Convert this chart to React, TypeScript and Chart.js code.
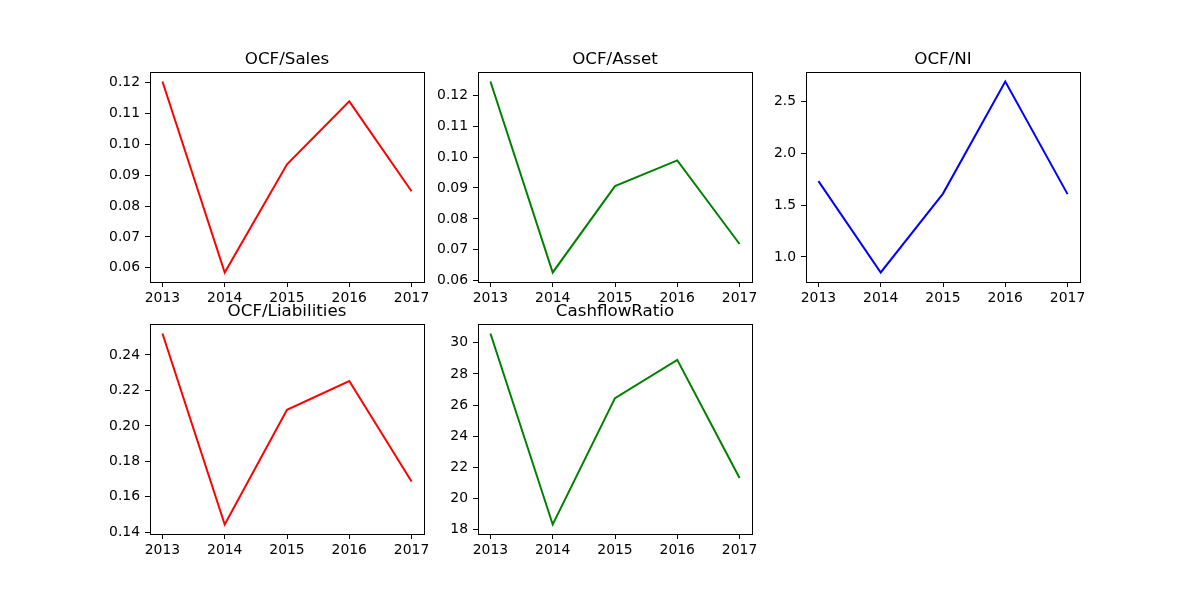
import React, { useEffect, useRef } from "react";
import { Chart, registerables } from "chart.js";

Chart.register(...registerables);

const years = [2013, 2014, 2015, 2016, 2017];
const ocfSales = [0.1203, 0.0585, 0.0935, 0.1139, 0.0848];
const ocfAsset = [0.1244, 0.0627, 0.0906, 0.0989, 0.0719];
const ocfNi = [1.73, 0.85, 1.61, 2.69, 1.605];
const ocfLiabilities = [0.2521, 0.1444, 0.2091, 0.2253, 0.1686];
const cashflowRatio = [30.6, 18.33, 26.45, 28.91, 21.32];

const titles = ["OCF/Sales", "OCF/Asset", "OCF/NI", "OCF/Liabilities", "CashflowRatio"];
const seriesList = [ocfSales, ocfAsset, ocfNi, ocfLiabilities, cashflowRatio];
const colors = ["#ff0000", "#008000", "#0000ff", "#ff0000", "#008000"];
const tickSteps = [0.01, 0.01, 0.5, 0.02, 2];
const tickDecimals = [2, 2, 1, 2, 0];

const AX_W = 274;
const AX_H = 210;
const colLefts = [150, 478, 806];
const rowTops = [72, 324];
const PAD_L = 70;
const PAD_T = 40;
const PAD_R = 20;
const PAD_B = 30;
const FONT = '"DejaVu Sans", sans-serif';

const framePlugin = {
  id: "frameAndTitle",
  afterDraw(chart: any) {
    const { ctx, chartArea } = chart;
    ctx.save();
    ctx.strokeStyle = "#000";
    ctx.lineWidth = 1;
    ctx.strokeRect(
      Math.round(chartArea.left) + 0.5,
      Math.round(chartArea.top) + 0.5,
      Math.round(chartArea.right - chartArea.left),
      Math.round(chartArea.bottom - chartArea.top)
    );
    const t = chart.options.plugins.subTitleText;
    ctx.fillStyle = "#000";
    ctx.font = `16.7px ${FONT}`;
    ctx.textAlign = "center";
    ctx.textBaseline = "alphabetic";
    ctx.fillText(t, (chartArea.left + chartArea.right) / 2, chartArea.top - 8);
    ctx.restore();
  },
};

function SubPlot({ idx }: { idx: number }) {
  const ref = useRef<HTMLCanvasElement>(null);
  const col = idx % 3;
  const row = Math.floor(idx / 3);
  const left = colLefts[col] - PAD_L;
  const top = rowTops[row] - PAD_T;
  const w = AX_W + PAD_L + PAD_R;
  const h = AX_H + PAD_T + PAD_B;

  useEffect(() => {
    const values = seriesList[idx];
    const lo = Math.min(...values);
    const hi = Math.max(...values);
    const r = hi - lo;
    const yMin = lo - 0.05 * r;
    const yMax = hi + 0.05 * r;
    const step = tickSteps[idx];
    const yTicks: number[] = [];
    for (let v = Math.ceil(yMin / step - 1e-9) * step; v <= yMax + 1e-9; v += step) {
      yTicks.push(Math.round(v / step) * step);
    }
    const xr = years[years.length - 1] - years[0];
    const xMin = years[0] - 0.05 * xr;
    const xMax = years[years.length - 1] + 0.05 * xr;

    const chart = new Chart(ref.current as HTMLCanvasElement, {
      type: "line",
      data: {
        datasets: [
          {
            data: years.map((y, i) => ({ x: y, y: values[i] })),
            borderColor: colors[idx],
            borderWidth: 2,
            pointRadius: 0,
            fill: false,
            tension: 0,
          },
        ],
      },
      options: {
        responsive: false,
        animation: false,
        devicePixelRatio: 1,
        layout: { padding: { left: 0, top: PAD_T, right: PAD_R, bottom: 0 } },
        plugins: {
          legend: { display: false },
          tooltip: { enabled: false },
          subTitleText: titles[idx],
        } as any,
        scales: {
          x: {
            type: "linear",
            min: xMin,
            max: xMax,
            afterBuildTicks: (s: any) => {
              s.ticks = years.map((v) => ({ value: v }));
            },
            afterFit: (s: any) => {
              s.height = PAD_B;
            },
            border: { display: false },
            grid: {
              drawOnChartArea: false,
              drawTicks: true,
              tickLength: 5,
              tickColor: "#000",
              tickWidth: 1,
            },
            ticks: {
              color: "#000",
              padding: 3,
              maxRotation: 0,
              autoSkip: false,
              font: { family: FONT, size: 13.9 },
              callback: (v: any) => String(v),
            },
          },
          y: {
            type: "linear",
            min: yMin,
            max: yMax,
            afterBuildTicks: (s: any) => {
              s.ticks = yTicks.map((v) => ({ value: v }));
            },
            afterFit: (s: any) => {
              s.width = PAD_L;
            },
            border: { display: false },
            grid: {
              drawOnChartArea: false,
              drawTicks: true,
              tickLength: 5,
              tickColor: "#000",
              tickWidth: 1,
            },
            ticks: {
              color: "#000",
              padding: 5,
              autoSkip: false,
              font: { family: FONT, size: 13.9 },
              callback: (v: any) => Number(v).toFixed(tickDecimals[idx]),
            },
          },
        },
      },
      plugins: [framePlugin],
    } as any);
    return () => chart.destroy();
  }, [idx]);

  return (
    <canvas
      ref={ref}
      width={w}
      height={h}
      style={{ position: "absolute", left, top, width: w, height: h, display: "block" }}
    />
  );
}

export default function App() {
  return (
    <div
      style={{
        position: "absolute",
        left: 0,
        top: 0,
        width: 1200,
        height: 600,
        background: "#fff",
        overflow: "hidden",
      }}
    >
      {titles.map((_, i) => (
        <SubPlot key={i} idx={i} />
      ))}
    </div>
  );
}
